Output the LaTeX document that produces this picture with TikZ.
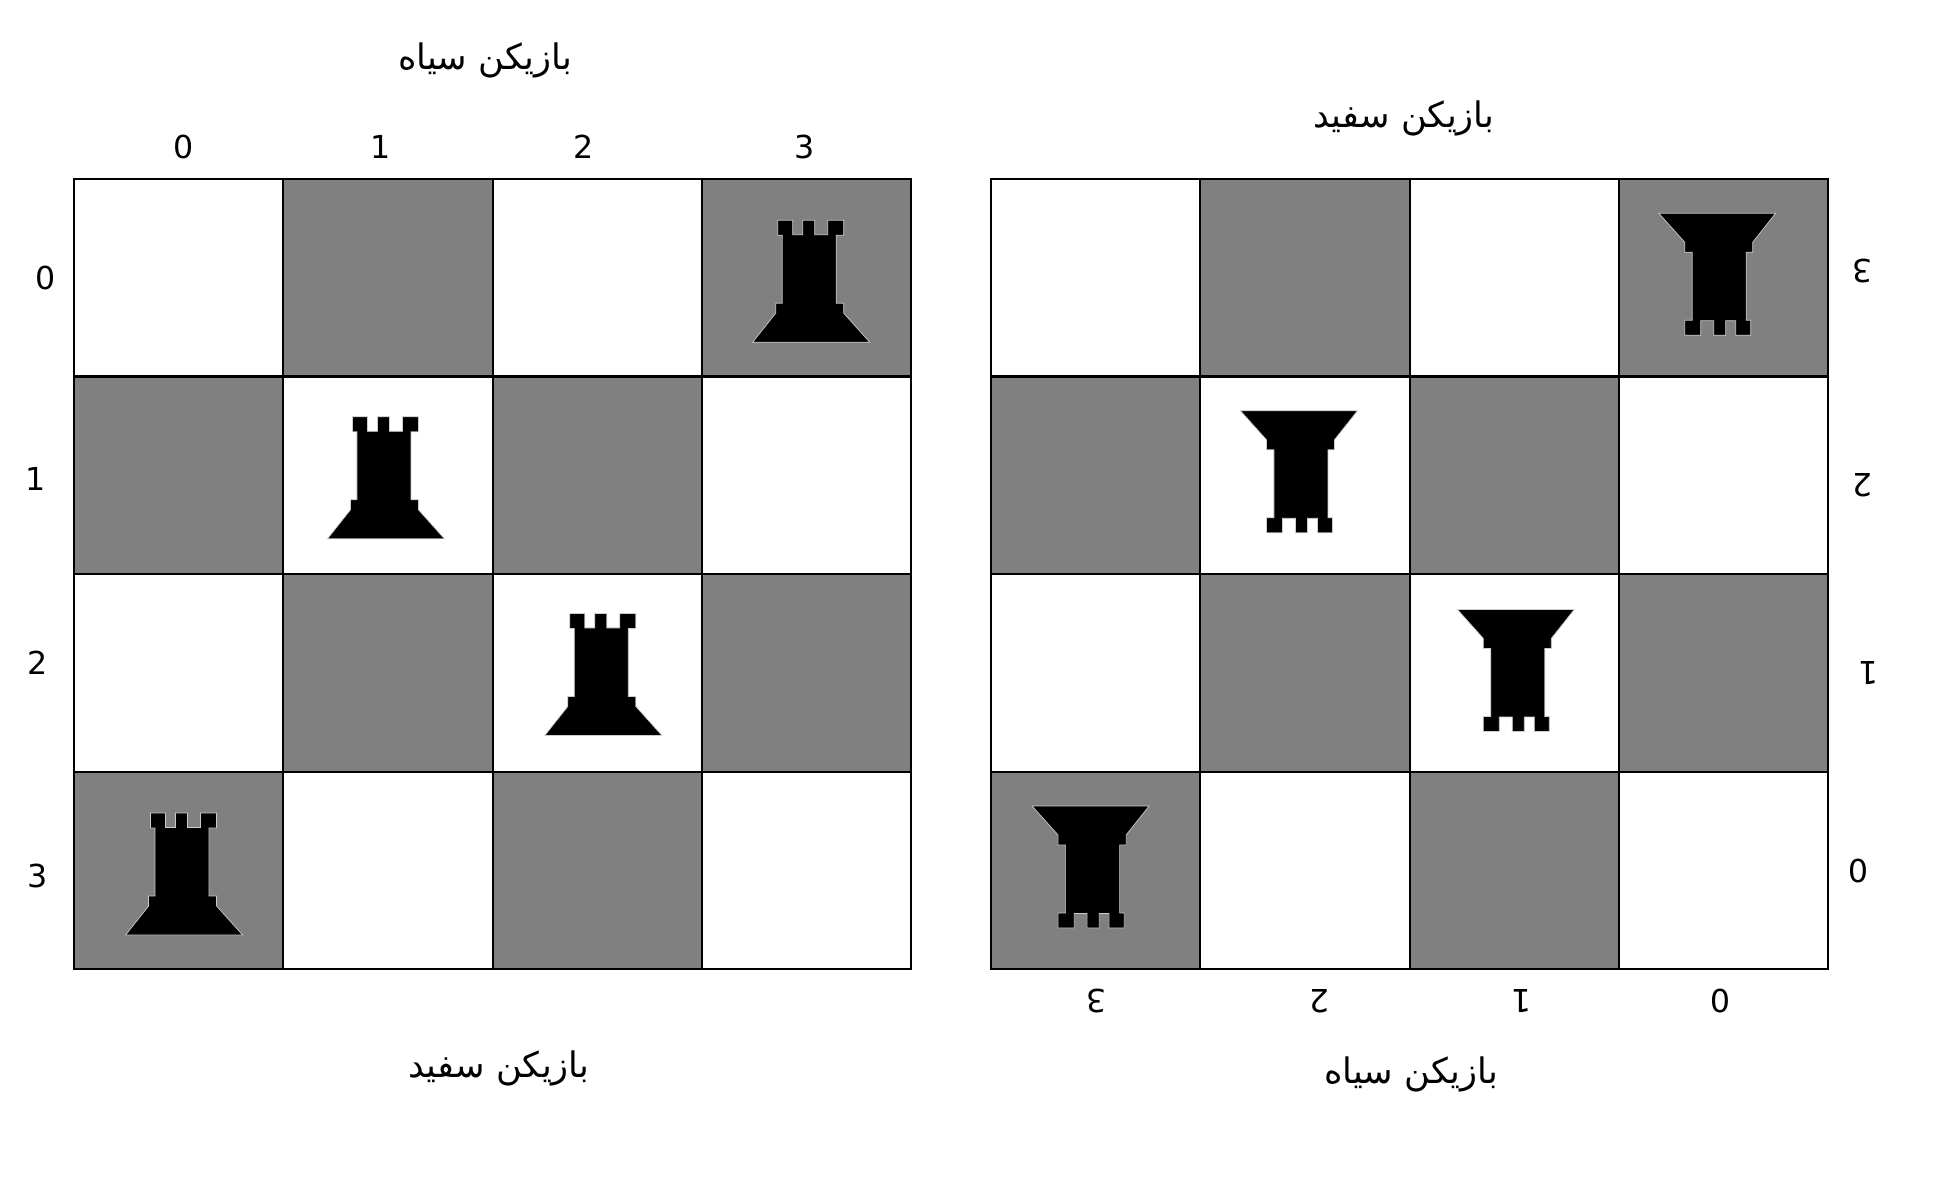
\documentclass[tikz,border=0pt]{standalone}
\usepackage{fontspec}
\usetikzlibrary{positioning}
\setmainfont{DejaVu Sans}
\newfontfamily\arabicfont[Script=Arabic]{DejaVu Sans}
\TeXXeTstate=1
\newcommand{\flipnum}[1]{\rotatebox[origin=c]{180}{#1}}
\newcommand{\blackplayer}{\arabicfont\beginR بازیکن سیاه\endR}
\newcommand{\whiteplayer}{\arabicfont\beginR بازیکن سفید\endR}

\begin{document}
\begin{tikzpicture}[
  x=0.01cm, y=-0.01cm,
  node distance=0cm,
  cell/.style={rectangle, draw=black, line width=0.6pt, minimum width=2.0925cm, minimum height=1.975cm, inner sep=0pt, outer sep=0pt},
  wcell/.style={cell, fill=white},
  gcell/.style={cell, fill=gray},
  num/.style={inner sep=0pt, outer sep=0pt, font=\fontsize{9}{9}\selectfont},
  playerlabel/.style={inner sep=0pt, font=\fontsize{10}{10}\selectfont},
  rook/.pic={
    \draw[draw=white!60!gray, line width=0.2pt, fill=black]
      (-33.5,-57.5) -- (-18.5,-57.5) -- (-18.5,-43) -- (-8.5,-43) -- (-8.5,-57.5) -- (3.5,-57.5) -- (3.5,-43) -- (16.5,-43) -- (16.5,-57.5) -- (32.5,-57.5) -- (32.5,-42.5) -- (25,-42.5)
      -- (25,25.5) -- (32.5,25.5) -- (32.5,35.5) -- (58.5,64.5) -- (-58.5,64.5) -- (-35.5,35.5) -- (-35.5,25.5) -- (-29,25.5) -- (-29,-42.5) -- (-33.5,-42.5) -- cycle;
  }
  ]
  \useasboundingbox (0,0) rectangle (1959,1189);

  % ========== left board ==========
  \node[wcell] (L00) at (178.6,277.7) {};
  \node[gcell, right=of L00] (L01) {};
  \node[wcell, right=of L01] (L02) {};
  \node[gcell, right=of L02] (L03) {};
  \node[gcell, below=of L00] (L10) {};
  \node[wcell, right=of L10] (L11) {};
  \node[gcell, right=of L11] (L12) {};
  \node[wcell, right=of L12] (L13) {};
  \node[wcell, below=of L10] (L20) {};
  \node[gcell, right=of L20] (L21) {};
  \node[wcell, right=of L21] (L22) {};
  \node[gcell, right=of L22] (L23) {};
  \node[gcell, below=of L20] (L30) {};
  \node[wcell, right=of L30] (L31) {};
  \node[gcell, right=of L31] (L32) {};
  \node[wcell, right=of L32] (L33) {};

  \pic at ([shift={(4.5,0)}]L03.center) {rook};
  \pic at ([shift={(-2,-1)}]L11.center) {rook};
  \pic at ([shift={(6,-2)}]L22.center) {rook};
  \pic at ([shift={(5.5,0)}]L30.center) {rook};

  \node[num, above=0.2cm of L00, xshift=0.05cm] (LT0) {0};
  \node[num, above=0.2cm of L01, xshift=-0.07cm] (LT1) {1};
  \node[num, above=0.2cm of L02, xshift=-0.14cm] (LT2) {2};
  \node[num, above=0.2cm of L03, xshift=-0.02cm] (LT3) {3};
  \node[num, left=0.18cm of L00] (LS0) {0};
  \node[num, left=0.28cm of L10, yshift=-0.04cm] (LS1) {1};
  \node[num, left=0.26cm of L20, yshift=0.1cm] (LS2) {2};
  \node[num, left=0.26cm of L30, yshift=-0.05cm] (LS3) {3};

  \node[playerlabel] (LB) at (485,60) {\blackplayer};
  \node[playerlabel] (LW) at (499,1068) {\whiteplayer};

  % ========== right board ==========
  \node[wcell] (R00) at (1095.6,277.7) {};
  \node[gcell, right=of R00] (R01) {};
  \node[wcell, right=of R01] (R02) {};
  \node[gcell, right=of R02] (R03) {};
  \node[gcell, below=of R00] (R10) {};
  \node[wcell, right=of R10] (R11) {};
  \node[gcell, right=of R11] (R12) {};
  \node[wcell, right=of R12] (R13) {};
  \node[wcell, below=of R10] (R20) {};
  \node[gcell, right=of R20] (R21) {};
  \node[wcell, right=of R21] (R22) {};
  \node[gcell, right=of R22] (R23) {};
  \node[gcell, below=of R20] (R30) {};
  \node[wcell, right=of R30] (R31) {};
  \node[gcell, right=of R31] (R32) {};
  \node[wcell, right=of R32] (R33) {};

  \pic[rotate=180] at ([shift={(-6.5,0)}]R03.center) {rook};
  \pic[rotate=180] at ([shift={(-6,0)}]R11.center) {rook};
  \pic[rotate=180] at ([shift={(1.5,1)}]R22.center) {rook};
  \pic[rotate=180] at ([shift={(-5,0)}]R30.center) {rook};

  \node[num, below=0.2cm of R30, xshift=0.01cm] (RT3) {\flipnum{3}};
  \node[num, below=0.2cm of R31, xshift=0.14cm] (RT2) {\flipnum{2}};
  \node[num, below=0.2cm of R32, xshift=0.07cm] (RT1) {\flipnum{1}};
  \node[num, below=0.2cm of R33, xshift=-0.03cm] (RT0) {\flipnum{0}};
  \node[num, right=0.24cm of R03, yshift=0.065cm] (RS3) {\flipnum{3}};
  \node[num, right=0.24cm of R13, yshift=-0.1cm] (RS2) {\flipnum{2}};
  \node[num, right=0.3cm of R23] (RS1) {\flipnum{1}};
  \node[num, right=0.2cm of R33] (RS0) {\flipnum{0}};

  \node[playerlabel] (RW) at (1404,118) {\whiteplayer};
  \node[playerlabel] (RB) at (1411,1074) {\blackplayer};
\end{tikzpicture}
\end{document}
